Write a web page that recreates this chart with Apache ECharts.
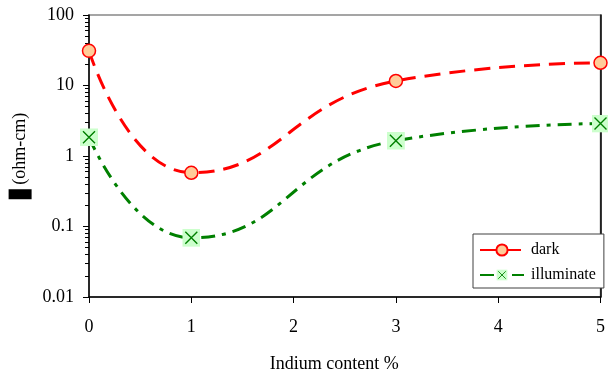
<!DOCTYPE html>
<html><head><meta charset="utf-8">
<script src="https://cdn.jsdelivr.net/npm/echarts@6/dist/echarts.min.js"></script>
<style>html,body{margin:0;padding:0;background:#fff}#c{width:608px;height:379px}</style>
</head><body><div id="c"></div>
<script>
const indium = [0, 1, 3, 5];
const dark = [31, 0.578, 11.6, 21];
const illuminate = [1.84, 0.069, 1.65, 2.88];
const seriesNames = ['dark', 'illuminate'];
const xTicks = [0, 1, 2, 3, 4, 5];
const yTicks = [0.01, 0.1, 1, 10, 100];

const F = 'Liberation Serif';
const xSvg = '<svg xmlns="http://www.w3.org/2000/svg" width="18" height="18" viewBox="0 0 18 18">' +
  '<rect x="0" y="0" width="18" height="18" fill="#CCFFCC"/>' +
  '<path d="M3 3 L15 15 M15 3 L3 15" stroke="#008000" stroke-width="1.4" fill="none"/></svg>';
const xSymbol = 'image://data:image/svg+xml;charset=utf-8,' + encodeURIComponent(xSvg);

const chart = echarts.init(document.getElementById('c'), null, {renderer: 'canvas'});
chart.setOption({
  animation: false,
  backgroundColor: '#fff',
  grid: {left: 89, right: 4, top: 15, bottom: 82, show: true, borderColor: '#888', borderWidth: 1.5},
  legend: {
    data: seriesNames,
    orient: 'vertical',
    left: 473, top: 234,
    padding: [8, 8, 5, 6],
    itemWidth: 44, itemHeight: 14, itemGap: 9,
    borderColor: '#404040', borderWidth: 1,
    backgroundColor: '#fff',
    textStyle: {fontFamily: F, fontSize: 16, color: '#000', padding: [0, 0, 0, 2]}
  },
  xAxis: [{
    type: 'value', min: xTicks[0], max: xTicks[xTicks.length - 1], interval: 1,
    name: 'Indium content %', nameLocation: 'middle', nameGap: 58,
    nameTextStyle: {fontFamily: F, fontSize: 18, color: '#000', padding: [0, 21, 0, 0]},
    axisLine: {lineStyle: {color: '#000', width: 1.5}},
    axisTick: {length: 6, lineStyle: {color: '#000', width: 1}},
    axisLabel: {fontFamily: F, fontSize: 18, color: '#000', margin: 21},
    splitLine: {show: false}
  }],
  yAxis: [{
    type: 'log', logBase: 10, min: yTicks[0], max: yTicks[yTicks.length - 1],
    name: '{box|ρ}{t| (ohm-cm)}', nameLocation: 'middle', nameGap: 57, nameRotate: 90,
    nameTextStyle: {fontFamily: F, fontSize: 18, color: '#000',
      rich: {
        box: {backgroundColor: '#000', color: '#000', width: 10, height: 23, fontSize: 14, verticalAlign: 'bottom'},
        t: {fontFamily: F, fontSize: 18, color: '#000', verticalAlign: 'bottom', padding: [0, 0, 2, 0]}
      }},
    axisLine: {lineStyle: {color: '#000', width: 1.5}},
    axisTick: {length: 6, lineStyle: {color: '#000', width: 1}},
    minorTick: {show: true, splitNumber: 9, length: 4, lineStyle: {color: '#000', width: 1}},
    axisLabel: {fontFamily: F, fontSize: 18, color: '#000', margin: 15,
      formatter: v => String(+v.toPrecision(3))},
    splitLine: {show: false}
  }, {
    type: 'log', logBase: 10, min: yTicks[0], max: yTicks[yTicks.length - 1], position: 'right',
    axisLine: {show: true, lineStyle: {color: '#000', width: 1.5}},
    axisTick: {show: false}, axisLabel: {show: false}, splitLine: {show: false}
  }],
  series: [{
    name: seriesNames[0], type: 'line', smooth: 0.5,
    data: indium.map((x, i) => [x, dark[i]]),
    lineStyle: {color: '#FF0000', width: 3, type: [16, 9]},
    symbol: 'circle', symbolSize: 13,
    itemStyle: {color: '#FFCC99', borderColor: '#FF0000', borderWidth: 1.5},
    z: 3
  }, {
    name: seriesNames[1], type: 'line', smooth: 0.5,
    data: indium.map((x, i) => [x, illuminate[i]]),
    lineStyle: {color: '#008000', width: 3, type: [14, 7, 4, 7]},
    symbol: xSymbol, symbolSize: 18,
    itemStyle: {color: '#008000'},
    z: 2
  }]
});
</script></body></html>
